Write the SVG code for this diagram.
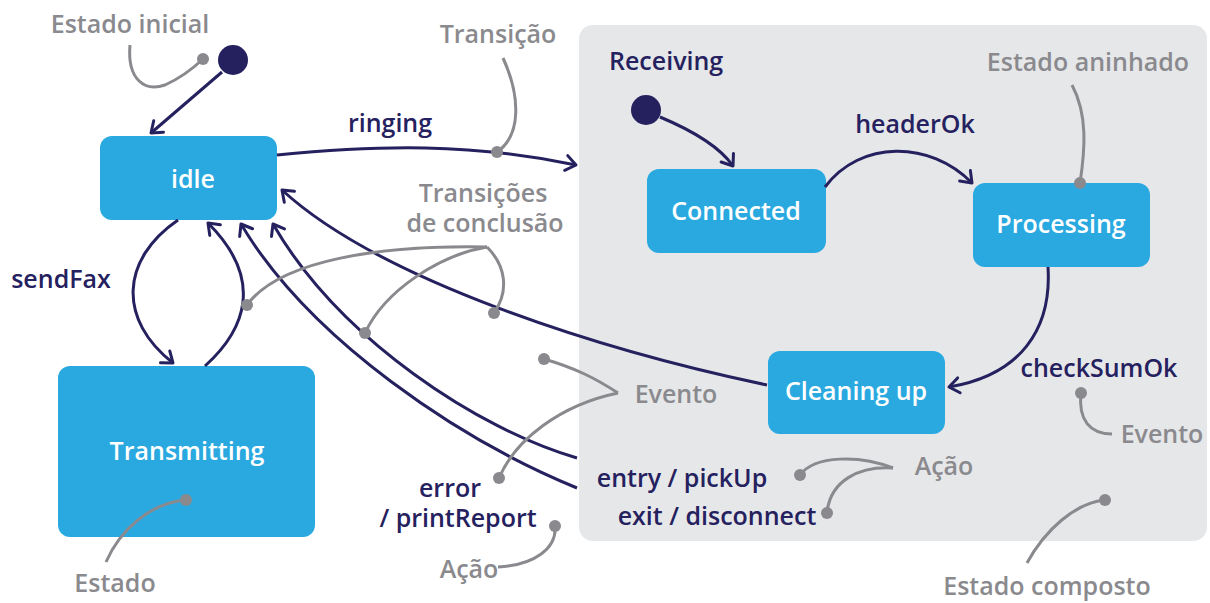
<svg xmlns="http://www.w3.org/2000/svg" width="1210" height="603" viewBox="0 0 1210 603">
  <style>
    text { font-family: "Open Sans", "Noto Sans", "DejaVu Sans", sans-serif; font-weight: 600; font-size: 25px; }
    .node rect { fill: #29a9e0; }
    .node text { fill: #ffffff; text-anchor: middle; }
    .lbl { fill: #25215f; text-anchor: middle; }
    .note { fill: #8a8a8e; text-anchor: middle; }
    .edge { fill: none; stroke: #25215f; stroke-width: 3; marker-end: url(#arrow); }
    .plain { fill: none; stroke: #25215f; stroke-width: 3; }
    .pin { fill: none; stroke: #8a8a8e; stroke-width: 3; }
    .dot { fill: #8a8a8e; }
    .init { fill: #25215f; }
  </style>
  <defs>
    <marker id="arrow" markerUnits="userSpaceOnUse" markerWidth="20" markerHeight="20" viewBox="-12 -10 14 20" refX="0" refY="0" orient="auto">
      <path d="M-10,-7.5 L0,0 L-10,7.5" fill="none" stroke="#25215f" stroke-width="3" stroke-linecap="round" stroke-linejoin="round"/>
    </marker>
  </defs>

  <!-- composite state: Receiving -->
  <g id="receiving">
    <rect x="579" y="25" width="628" height="516" rx="14" fill="#e6e7e9"/>
    <text class="lbl" x="609" y="70" style="text-anchor:start">Receiving</text>
    <text class="lbl" x="682" y="487">entry / pickUp</text>
    <text class="lbl" x="717" y="525">exit / disconnect</text>
  </g>

  <!-- initial pseudo-states -->
  <g id="initial">
    <circle class="init" cx="233" cy="60" r="15"/>
  </g>
  <g id="receiving-initial">
    <circle class="init" cx="646" cy="110" r="15"/>
  </g>

  <!-- simple states -->
  <g id="idle" class="node">
    <rect x="100" y="136" width="177" height="84" rx="12"/>
    <text x="193" y="188">idle</text>
  </g>
  <g id="transmitting" class="node">
    <rect x="58" y="366" width="257" height="171" rx="12"/>
    <text x="187" y="460">Transmitting</text>
  </g>
  <g id="connected" class="node">
    <rect x="647" y="169" width="179" height="84" rx="12"/>
    <text x="736" y="220">Connected</text>
  </g>
  <g id="processing" class="node">
    <rect x="973" y="183" width="177" height="84" rx="12"/>
    <text x="1061" y="233">Processing</text>
  </g>
  <g id="cleaning-up" class="node">
    <rect x="768" y="351" width="177" height="83" rx="12"/>
    <text x="856" y="400">Cleaning up</text>
  </g>

  <!-- transitions -->
  <g id="connectors">
    <path class="edge" d="M222,72 L151,133"/>
    <path class="edge" d="M277,155 C380,145 470,143 576,165"/>
    <path class="edge" d="M178,220 C120,260 118,320 173,363"/>
    <path class="edge" d="M205,366 C245,330 265,280 208,223"/>
    <path class="edge" d="M577,488 C460,440 310,340 241,224"/>
    <path class="edge" d="M577,458 C480,430 340,340 273,224"/>
    <path class="edge" d="M767,385 C600,350 380,280 282,190"/>
    <path class="edge" d="M660,117 Q715,140 733,166"/>
    <path class="edge" d="M825,187 C860,140 930,140 972,183"/>
    <path class="edge" d="M1048,267 C1052,330 1020,375 949,387"/>

    <text class="lbl" x="390" y="132">ringing</text>
    <text class="lbl" x="61" y="288">sendFax</text>
    <text class="lbl" x="915" y="133">headerOk</text>
    <text class="lbl" x="1099" y="377">checkSumOk</text>
    <text class="lbl" x="450" y="497">error</text>
    <text class="lbl" x="458" y="527">/ printReport</text>
  </g>

  <!-- annotations -->
  <g id="annotations">
    <text class="note" x="130" y="33">Estado inicial</text>
    <path class="pin" d="M130,45 C127,80 145,92 165,85 Q185,76 203,59"/>
    <circle class="dot" cx="203" cy="59" r="6"/>

    <text class="note" x="498" y="43">Transição</text>
    <path class="pin" d="M503,58 C520,95 522,135 497,152"/>
    <circle class="dot" cx="497" cy="152" r="6"/>

    <text class="note" x="483" y="202">Transições</text>
    <text class="note" x="485" y="232">de conclusão</text>
    <path class="pin" d="M487,247 C380,245 280,260 247,305"/>
    <path class="pin" d="M487,247 C440,255 385,290 365,333"/>
    <path class="pin" d="M487,247 C505,265 510,290 494,313"/>
    <circle class="dot" cx="247" cy="305" r="6"/>
    <circle class="dot" cx="365" cy="333" r="6"/>
    <circle class="dot" cx="494" cy="313" r="6"/>

    <text class="note" x="1088" y="71">Estado aninhado</text>
    <path class="pin" d="M1072,85 C1088,115 1085,150 1080,183"/>
    <circle class="dot" cx="1080" cy="183" r="6"/>

    <text class="note" x="676" y="403">Evento</text>
    <path class="pin" d="M618,393 C595,378 575,368 544,359"/>
    <path class="pin" d="M618,393 C560,405 515,440 499,478"/>
    <circle class="dot" cx="544" cy="359" r="6"/>
    <circle class="dot" cx="499" cy="478" r="6"/>

    <text class="note" x="1162" y="443">Evento</text>
    <path class="pin" d="M1081,393 C1078,420 1090,434 1112,434"/>
    <circle class="dot" cx="1081" cy="393" r="6"/>

    <text class="note" x="944" y="475">Ação</text>
    <path class="pin" d="M893,468 C860,455 815,455 800,475"/>
    <path class="pin" d="M893,468 C860,466 830,480 827,513"/>
    <circle class="dot" cx="800" cy="475" r="6"/>
    <circle class="dot" cx="827" cy="513" r="6"/>

    <text class="note" x="469" y="578">Ação</text>
    <path class="pin" d="M498,567 C535,565 557,548 555,526"/>
    <circle class="dot" cx="555" cy="526" r="6"/>

    <text class="note" x="115" y="592">Estado</text>
    <path class="pin" d="M106,562 C120,530 150,503 186,500"/>
    <circle class="dot" cx="186" cy="500" r="6"/>

    <text class="note" x="1047" y="595">Estado composto</text>
    <path class="pin" d="M1027,563 C1045,530 1075,503 1105,500"/>
    <circle class="dot" cx="1105" cy="500" r="6"/>
  </g>
</svg>
